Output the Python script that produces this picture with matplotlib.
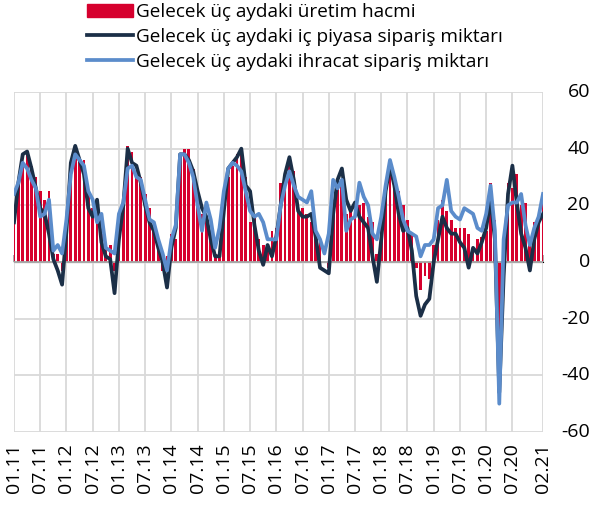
import matplotlib
matplotlib.use("Agg")
import matplotlib.pyplot as plt
import matplotlib.transforms as mtransforms
from matplotlib.patches import Patch
from matplotlib.lines import Line2D
import numpy as np

# monthly survey balances, 01.2011 - 02.2021
production = [
    14, 28, 35, 38, 34, 30, 25, 22, 25, 3, 3, -3,        # 2011
    15, 35, 39, 36, 36, 25, 19, 15, 10, 5, 6, -3,        # 2012
    12, 20, 41, 39, 32, 30, 24, 19, 12, 8, -3, 2,        # 2013
    10, 8, 38, 40, 40, 33, 23, 17, 15, 11, 3, 3,         # 2014
    17, 30, 34, 38, 39, 30, 14, 16, 8, 6, 4, 11,         # 2015
    12, 28, 29, 37, 32, 18, 19, 17, 14, 11, 8, 0,        # 2016
    -2, 18, 29, 27, 17, 18, 17, 20, 21, 16, 14, 3,       # 2017
    14, 27, 34, 29, 25, 20, 15, 10, -2, -10, -5, -6,     # 2018
    6, 15, 22, 18, 15, 12, 12, 12, 10, 5, 8, 9,          # 2019
    11, 28, 15, -30, -4, 28, 26, 31, 20, 21, 8, 14,      # 2020
    15, 22,                                              # 2021
]
domestic = [
    14, 28, 38, 39, 33, 26, 19, 17, 10, 1, -3, -8,
    11, 35, 41, 36, 31, 19, 16, 22, 7, 2, 1, -11,
    8, 20, 40, 35, 34, 28, 20, 14, 11, 5, 0, -9,
    5, 12, 38, 38, 36, 32, 25, 19, 16, 8, 2, 2,
    18, 33, 35, 37, 40, 27, 25, 13, 4, -1, 6, 2,
    9, 20, 31, 37, 29, 18, 16, 16, 17, 9, -2, -3,
    -4, 17, 29, 33, 22, 18, 21, 16, 14, 12, 2, -7,
    8, 25, 34, 27, 17, 11, 12, 4, -12, -19, -15, -13,
    0, 8, 16, 12, 10, 10, 7, 5, -2, 5, 3, 7,
    12, 22, 8, -46, -5, 24, 34, 21, 10, 5, -3, 8,
    14, 17,
]
exports = [
    24, 28, 35, 33, 29, 26, 16, 17, 22, 4, 6, 3,
    15, 31, 38, 36, 34, 25, 22, 14, 17, 5, 4, 3,
    17, 21, 33, 34, 30, 29, 22, 15, 14, 8, 3, -3,
    8, 13, 38, 38, 35, 30, 20, 11, 21, 15, 5, 12,
    25, 33, 35, 34, 32, 25, 18, 16, 17, 14, 8, 8,
    8, 20, 27, 32, 27, 23, 22, 21, 25, 11, 8, 3,
    10, 29, 26, 29, 11, 15, 16, 28, 23, 20, 10, 8,
    16, 27, 36, 30, 23, 15, 11, 10, 9, 2, 6, 6,
    8, 19, 20, 29, 18, 16, 15, 19, 18, 17, 12, 11,
    17, 27, 11, -50, 8, 20, 21, 21, 24, 13, 6, 12,
    16, 24,
]
tick_pos = [0, 6, 12, 18, 24, 30, 36, 42, 48, 54, 60, 66, 72, 78, 84, 90,
            96, 102, 108, 114, 121]
tick_labels = ["01.11", "07.11", "01.12", "07.12", "01.13", "07.13", "01.14",
               "07.14", "01.15", "07.15", "01.16", "07.16", "01.17", "07.17",
               "01.18", "07.18", "01.19", "07.19", "01.20", "07.20", "02.21"]
y_ticks = [-60, -40, -20, 0, 20, 40, 60]
series_names = ["Gelecek üç aydaki üretim hacmi",
                "Gelecek üç aydaki iç piyasa sipariş miktarı",
                "Gelecek üç aydaki ihracat sipariş miktarı"]

RED = "#D6002E"
NAVY = "#1B2F47"
BLUE = "#5B8CCB"
GRID = "#d9d9d9"

plt.rcParams["font.family"] = ["Open Sans", "DejaVu Sans"]
plt.rcParams["font.size"] = 14

fig = plt.figure(figsize=(5.99, 5.19), dpi=100)
W, H = 599, 519
ax = fig.add_axes([14 / W, 1 - 432 / H, (543 - 14) / W, (432 - 92) / H])

x = np.arange(len(production))
ax.bar(x, production, width=0.65, color=RED, zorder=2)
ax.axhline(0, color="#a6a6a6", lw=1.3, zorder=2.5)
ax.plot(x, domestic, color=NAVY, lw=2.7, zorder=3, solid_joinstyle="round")
ax.plot(x, exports, color=BLUE, lw=2.7, zorder=4, solid_joinstyle="round")

ax.set_xlim(0, 121)
ax.set_ylim(-60, 60)
ax.set_yticks(y_ticks)
ax.set_xticks(tick_pos)
ax.set_xticklabels(tick_labels, rotation=90)
for s in ax.spines.values():
    s.set_visible(False)
ax.tick_params(axis="y", length=0, labelleft=False, labelright=False)
ax.tick_params(axis="x", length=0, pad=8)
ax.set_axisbelow(True)
ax.xaxis.grid(True, color=GRID, lw=1.3)
ax.yaxis.grid(True, color=GRID, lw=1.3)

# value labels on the right, right-aligned
trans = mtransforms.blended_transform_factory(ax.transAxes, ax.transData)
for v in y_ticks:
    ax.text(1 + 47 / 529, v, str(v), transform=trans, ha="right",
            va="center", fontsize=14)

# small tick marks on the zero line
sec = ax.secondary_xaxis(0.5)
sec.set_xticks(tick_pos)
sec.set_xticklabels([""] * len(tick_pos))
sec.tick_params(length=5, width=1.3, color="#a6a6a6")
sec.spines["bottom"].set_visible(False)

handles = [Patch(color=RED), Line2D([], [], color=NAVY, lw=2.7),
           Line2D([], [], color=BLUE, lw=2.7)]
fig.legend(handles, series_names, loc="upper left",
           bbox_to_anchor=(87 / W, 1 - 3 / H), frameon=False,
           borderpad=0, borderaxespad=0, handlelength=2.4,
           handletextpad=0.2, labelspacing=0.36, fontsize=13.7)

fig.savefig("out.png", dpi=100)
